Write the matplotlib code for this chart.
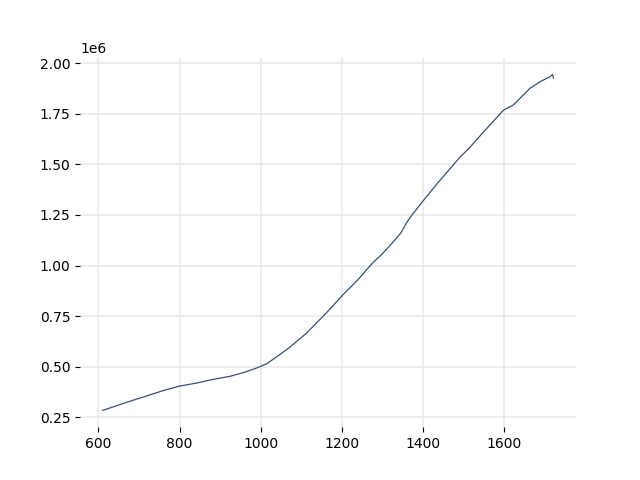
import matplotlib
matplotlib.use("Agg")
import matplotlib.pyplot as plt

x_vals = [610, 640, 677, 720, 760, 800, 842, 880, 924, 960, 990, 1015, 1040, 1071,
          1112, 1161, 1202, 1243, 1264, 1280, 1297, 1320, 1346, 1360, 1370, 1399, 1436,
          1461, 1493, 1514, 1551, 1600, 1624, 1665, 1690, 1714, 1721, 1723]
y_vals = [0.285e6, 0.305e6, 0.33e6, 0.357e6, 0.383e6, 0.405e6, 0.42e6, 0.437e6, 0.453e6,
          0.473e6, 0.494e6, 0.515e6, 0.55e6, 0.595e6, 0.664e6, 0.763e6, 0.853e6,
          0.936e6, 0.985e6, 1.02e6, 1.051e6, 1.10e6, 1.16e6, 1.21e6, 1.24e6, 1.314e6,
          1.405e6, 1.463e6, 1.537e6, 1.578e6, 1.661e6, 1.768e6, 1.793e6, 1.875e6,
          1.908e6, 1.932e6, 1.944e6, 1.925e6]

fig, ax = plt.subplots(figsize=(6.4, 4.8), dpi=100)
ax.plot(x_vals, y_vals, color="#34507c", linewidth=0.9)
ax.grid(True, color="#e8e8e8", linewidth=1.1)
ax.set_axisbelow(True)
for s in ax.spines.values():
    s.set_visible(False)
fig.savefig("out.png")
